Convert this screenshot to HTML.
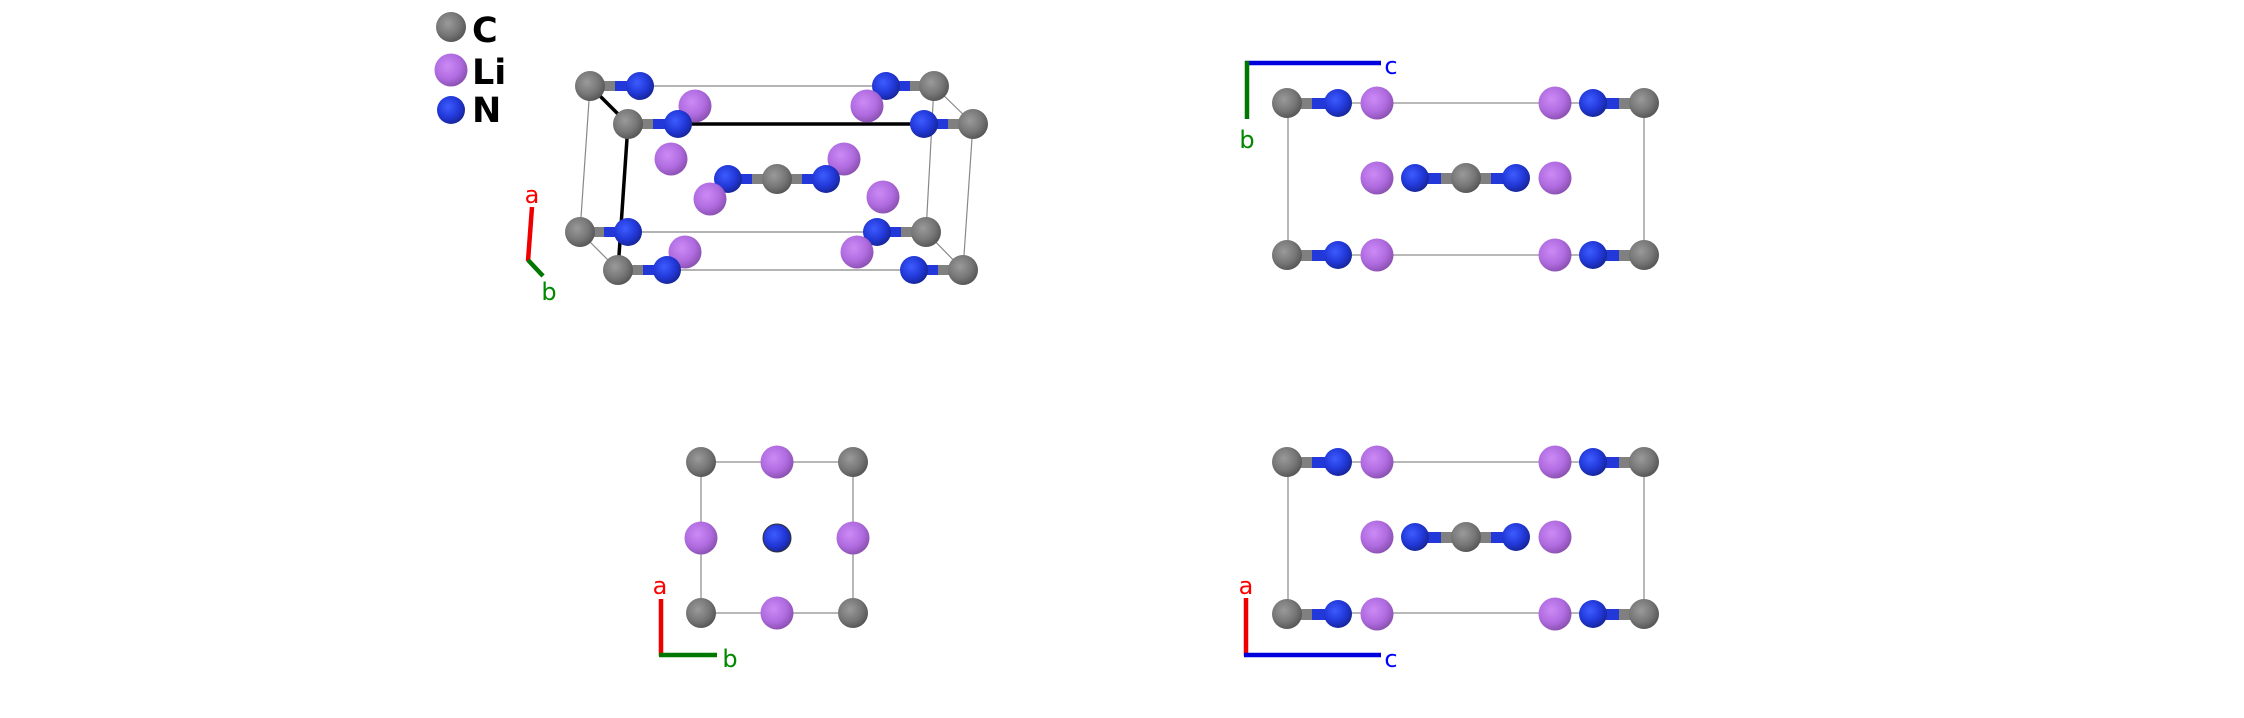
<!DOCTYPE html>
<html><head><meta charset="utf-8"><style>
html,body{margin:0;padding:0;background:#fff;width:2244px;height:718px;overflow:hidden}
svg{display:block}
text{font-family:"DejaVu Sans","Liberation Sans",sans-serif}
</style></head><body>
<svg width="2244" height="718" viewBox="0 0 2244 718" xmlns="http://www.w3.org/2000/svg">
<defs>
<radialGradient id="gC" cx="0.4" cy="0.38" r="0.65"><stop offset="0" stop-color="#9a9a9a"/><stop offset="0.6" stop-color="#777"/><stop offset="1" stop-color="#555"/></radialGradient>
<radialGradient id="gN" cx="0.4" cy="0.38" r="0.65"><stop offset="0" stop-color="#3d5cff"/><stop offset="0.6" stop-color="#2238d8"/><stop offset="1" stop-color="#162596"/></radialGradient>
<radialGradient id="gL" cx="0.4" cy="0.38" r="0.65"><stop offset="0" stop-color="#cc8af5"/><stop offset="0.6" stop-color="#b06ce0"/><stop offset="1" stop-color="#8a50b0"/></radialGradient>
<circle id="C" r="15" fill="url(#gC)"/>
<circle id="N" r="14" fill="url(#gN)"/>
<circle id="L" r="16.5" fill="url(#gL)"/>
</defs>

<!-- legend -->
<use href="#C" x="451" y="27"/><use href="#L" x="451" y="70"/><use href="#N" x="451" y="110"/>
<g font-weight="bold" font-size="35" fill="#000">
<text x="472" y="42">C</text><text x="472" y="84">Li</text><text x="472" y="122">N</text></g>

<!-- 3D view cell -->
<g stroke="#888" stroke-width="1.2" fill="none">
<line x1="590" y1="86" x2="934" y2="86"/><line x1="580" y1="232" x2="926" y2="232"/>
<line x1="618" y1="270" x2="963" y2="270"/>
<line x1="590" y1="86" x2="580" y2="232"/><line x1="934" y1="86" x2="926" y2="232"/>
<line x1="973" y1="124" x2="963" y2="270"/>
<line x1="934" y1="86" x2="973" y2="124"/><line x1="580" y1="232" x2="618" y2="270"/><line x1="926" y1="232" x2="963" y2="270"/>
</g>
<g stroke="#000" stroke-width="3.5">
<line x1="590" y1="86" x2="628" y2="124"/><line x1="628" y1="124" x2="973" y2="124"/><line x1="628" y1="124" x2="618" y2="270"/>
</g>
<g>
<!-- bonds 3D -->
<rect x="590" y="81" width="25" height="10" fill="#808080"/><rect x="615" y="81" width="25" height="10" fill="#2238d8"/>
<rect x="886" y="81" width="24" height="10" fill="#2238d8"/><rect x="910" y="81" width="24" height="10" fill="#808080"/>
<rect x="580" y="227" width="24" height="10" fill="#808080"/><rect x="604" y="227" width="24" height="10" fill="#2238d8"/>
<rect x="877" y="227" width="24" height="10" fill="#2238d8"/><rect x="901" y="227" width="25" height="10" fill="#808080"/>
<use href="#C" x="590" y="86"/><use href="#N" x="640" y="86"/><use href="#N" x="886" y="86"/><use href="#C" x="934" y="86"/>
<use href="#L" x="695" y="106"/><use href="#L" x="867" y="106"/>
<rect x="628" y="119" width="25" height="10" fill="#808080"/><rect x="653" y="119" width="25" height="10" fill="#2238d8"/>
<rect x="924" y="119" width="24" height="10" fill="#2238d8"/><rect x="948" y="119" width="25" height="10" fill="#808080"/>
<use href="#C" x="628" y="124"/><use href="#N" x="678" y="124"/><use href="#N" x="924" y="124"/><use href="#C" x="973" y="124"/>
<use href="#L" x="671" y="159"/><use href="#L" x="844" y="159"/>
<rect x="728" y="174" width="49" height="10" fill="#2238d8"/><rect x="777" y="174" width="49" height="10" fill="#2238d8"/><rect x="752" y="174" width="50" height="10" fill="#808080"/>
<use href="#N" x="728" y="179"/><use href="#C" x="777" y="179"/><use href="#N" x="826" y="179"/>
<use href="#L" x="710" y="199"/><use href="#L" x="883" y="197"/>
<use href="#C" x="580" y="232"/><use href="#N" x="628" y="232"/><use href="#N" x="877" y="232"/><use href="#C" x="926" y="232"/>
<use href="#L" x="685" y="252"/><use href="#L" x="857" y="252"/>
<rect x="618" y="265" width="25" height="10" fill="#808080"/><rect x="643" y="265" width="24" height="10" fill="#2238d8"/>
<rect x="914" y="265" width="24" height="10" fill="#2238d8"/><rect x="938" y="265" width="25" height="10" fill="#808080"/>
<use href="#C" x="618" y="270"/><use href="#N" x="667" y="270"/><use href="#N" x="914" y="270"/><use href="#C" x="963" y="270"/>
</g>
<line x1="528" y1="261" x2="532" y2="207" stroke="#e00" stroke-width="4.5"/>
<line x1="528" y1="260" x2="543" y2="276" stroke="#070" stroke-width="4.5"/>
<text x="532" y="203" font-size="24" fill="#f00" text-anchor="middle">a</text>
<text x="549" y="300" font-size="24" fill="#080" text-anchor="middle">b</text>

<!-- top-right view (b,c) -->
<rect x="1288" y="103" width="356" height="152" fill="none" stroke="#888" stroke-width="1.2"/>
<g id="rows">
<rect x="1287" y="98" width="25" height="11" fill="#808080"/><rect x="1312" y="98" width="26" height="11" fill="#2238d8"/>
<rect x="1593" y="98" width="26" height="11" fill="#2238d8"/><rect x="1619" y="98" width="25" height="11" fill="#808080"/>
<use href="#C" x="1287" y="103"/><use href="#N" x="1338" y="103"/><use href="#L" x="1377" y="103"/><use href="#L" x="1555" y="103"/><use href="#N" x="1593" y="103"/><use href="#C" x="1644" y="103"/>
<rect x="1415" y="173" width="101" height="11" fill="#2238d8"/><rect x="1441" y="173" width="50" height="11" fill="#808080"/>
<use href="#L" x="1377" y="178"/><use href="#N" x="1415" y="178"/><use href="#C" x="1466" y="178"/><use href="#N" x="1516" y="178"/><use href="#L" x="1555" y="178"/>
<rect x="1287" y="250" width="25" height="11" fill="#808080"/><rect x="1312" y="250" width="26" height="11" fill="#2238d8"/>
<rect x="1593" y="250" width="26" height="11" fill="#2238d8"/><rect x="1619" y="250" width="25" height="11" fill="#808080"/>
<use href="#C" x="1287" y="255"/><use href="#N" x="1338" y="255"/><use href="#L" x="1377" y="255"/><use href="#L" x="1555" y="255"/><use href="#N" x="1593" y="255"/><use href="#C" x="1644" y="255"/>
</g>
<line x1="1245" y1="63" x2="1381" y2="63" stroke="#00d" stroke-width="4.5"/>
<line x1="1247" y1="61" x2="1247" y2="119" stroke="#070" stroke-width="4.5"/>
<text x="1391" y="74" font-size="24" fill="#00f" text-anchor="middle">c</text>
<text x="1247" y="148" font-size="24" fill="#080" text-anchor="middle">b</text>

<!-- bottom-right view (a,c) -->
<rect x="1288" y="462" width="356" height="151" fill="none" stroke="#888" stroke-width="1.2"/>
<use href="#rows" x="0" y="359"/>
<line x1="1246" y1="656" x2="1246" y2="598" stroke="#e00" stroke-width="4.5"/>
<line x1="1244" y1="655" x2="1381" y2="655" stroke="#00d" stroke-width="4.5"/>
<text x="1246" y="594" font-size="24" fill="#f00" text-anchor="middle">a</text>
<text x="1391" y="667" font-size="24" fill="#00f" text-anchor="middle">c</text>

<!-- bottom-left view (a,b) -->
<rect x="701" y="462" width="152" height="151" fill="none" stroke="#888" stroke-width="1.2"/>
<use href="#C" x="701" y="462"/><use href="#L" x="777" y="462"/><use href="#C" x="853" y="462"/>
<use href="#L" x="701" y="538"/><use href="#N" x="777" y="538"/><use href="#L" x="853" y="538"/>
<circle cx="777" cy="538" r="14" fill="none" stroke="#333" stroke-width="1"/>
<use href="#C" x="701" y="613"/><use href="#L" x="777" y="613"/><use href="#C" x="853" y="613"/>
<line x1="661" y1="656" x2="661" y2="599" stroke="#e00" stroke-width="4.5"/>
<line x1="659" y1="655" x2="717" y2="655" stroke="#070" stroke-width="4.5"/>
<text x="660" y="594" font-size="24" fill="#f00" text-anchor="middle">a</text>
<text x="730" y="667" font-size="24" fill="#080" text-anchor="middle">b</text>
</svg>
</body></html>
